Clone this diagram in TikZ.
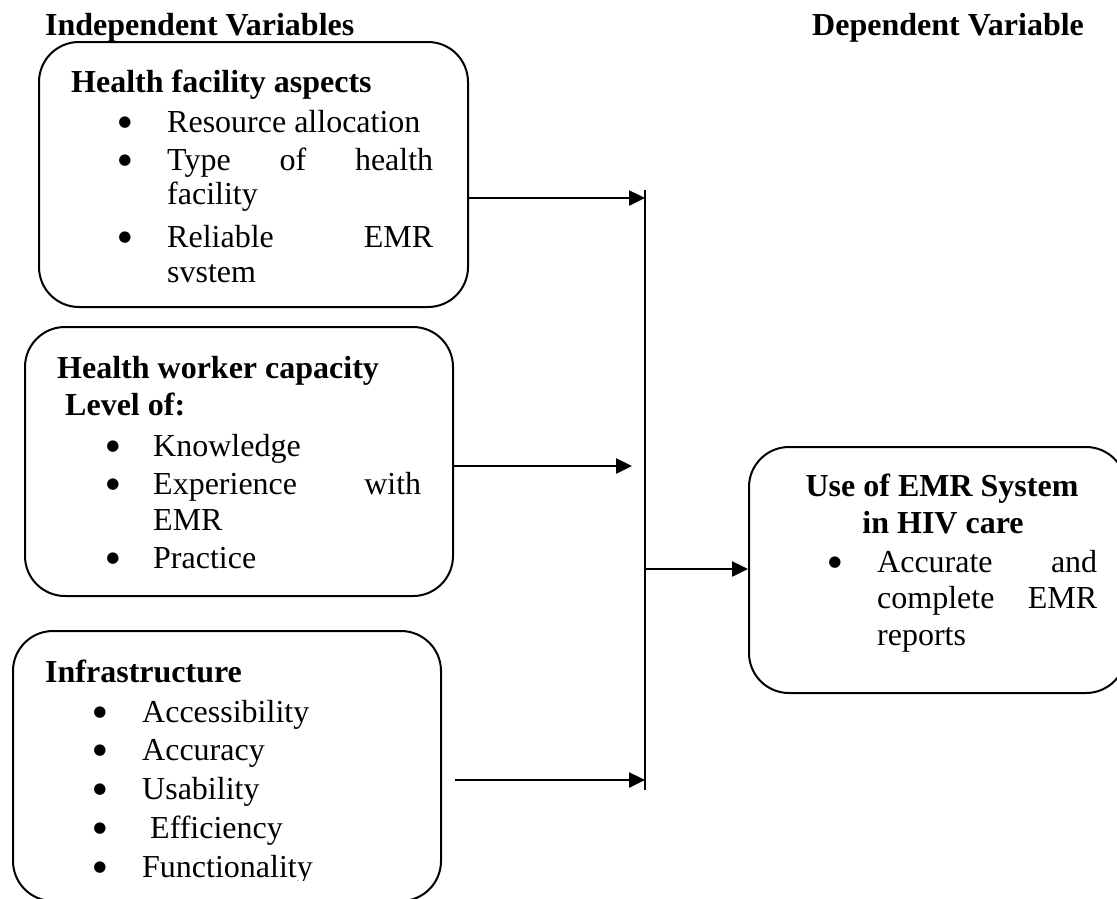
\documentclass[tikz,border=0pt]{standalone}
\usepackage{fontspec}
\setmainfont{Liberation Serif}
\newfontfamily\dvsans{DejaVu Sans}
\usetikzlibrary{arrows.meta}
\begin{document}
\begin{tikzpicture}[x=1pt,y=-1pt,
  boxsty/.style={draw, line width=2pt, rounded corners=40pt, anchor=north west, inner sep=0pt},
  txt/.style={inner sep=0pt, anchor=base west, font=\fontsize{32}{38}\selectfont},
  hd/.style={inner sep=0pt, anchor=base west, font=\fontsize{32}{38}\selectfont\bfseries},
  hdc/.style={inner sep=0pt, anchor=base, font=\fontsize{32}{38}\selectfont\bfseries},
  bul/.style={inner sep=0pt, anchor=center, yshift=9pt, font=\dvsans\fontsize{15}{18}\selectfont},
  conn/.style={line width=2.5pt, -{Triangle[length=16pt,width=15pt]}},
  vline/.style={line width=2pt}]
\clip (0,0) rectangle (1117,898);

% headers
\node[hd] (hind) at (45,35) {Independent Variables};
\node[hd] (hdep) at (812,35) {Dependent Variable};

% boxes
\node[boxsty, minimum width=429pt, minimum height=265pt] (b1) at (38,41) {};
\node[boxsty, minimum width=428pt, minimum height=269pt] (b2) at (24,326) {};
\node[boxsty, minimum width=428pt, minimum height=270pt] (b3) at (12,630) {};
\node[boxsty, minimum width=377pt, minimum height=246pt] (b4) at (748,446) {};

% box 1 text
\node[hd] (h1) at (71,92) {Health facility aspects};
\node[bul] (p11) at (125,132) {●};
\node[bul] (p12) at (125,170) {●};
\node[bul] (p13) at (125,247) {●};
\node[txt] (t11) at (167,132) {Resource allocation};
\node[txt] (t12) at (167,170) {\makebox[266pt][l]{Type\hfill of\hfill health}};
\node[txt] (t13) at (167,204) {facility};
\node[txt] (t14) at (167,247) {\makebox[266pt][l]{Reliable\hfill EMR}};
\node[txt] (t15) at (167,282) {svstem};

% box 2 text
\node[hd] (h2) at (57,378) {Health worker capacity};
\node[hd] (h2b) at (65,415) {Level of:};
\node[bul] (p21) at (113,456) {●};
\node[bul] (p22) at (113,494) {●};
\node[bul] (p23) at (113,568) {●};
\node[txt] (t21) at (153,456) {Knowledge};
\node[txt] (t22) at (153,494) {\makebox[268pt][l]{Experience\hfill with}};
\node[txt] (t23) at (153,530) {EMR};
\node[txt] (t24) at (153,568) {Practice};

% box 3 text
\node[hd] (h3) at (45,682) {Infrastructure};
\node[bul] (p31) at (100,722) {●};
\node[bul] (p32) at (100,760) {●};
\node[bul] (p33) at (100,799) {●};
\node[bul] (p34) at (100,838) {●};
\node[bul] (p35) at (100,877) {●};
\node[txt] (t31) at (142,722) {Accessibility};
\node[txt] (t32) at (142,760) {Accuracy};
\node[txt] (t33) at (142,799) {Usability};
\node[txt] (t34) at (150,838) {Efficiency};
\begin{scope}
\clip (0,0) rectangle (1117,880);
\node[txt] (t35) at (142,877) {Functionality};
\end{scope}

% box 4 text
\node[hdc] (h4) at (942,496) {Use of EMR System};
\node[hdc] (h4b) at (943,533) {in HIV care};
\node[bul] (p41) at (835,572) {●};
\node[txt] (t41) at (877,572) {\makebox[220pt][l]{Accurate\hfill and}};
\node[txt] (t42) at (877,608) {\makebox[220pt][l]{complete\hfill EMR}};
\node[txt] (t43) at (877,645) {reports};

% connectors
\coordinate (vtop) at (645,190);
\coordinate (vbot) at (645,790);
\draw[vline] (vtop) -- (vbot);
\coordinate (a1) at (645,198);
\draw[conn] (b1.east |- a1) -- (a1);
\coordinate (a2) at (632,466);
\draw[conn] (b2.east |- a2) -- (a2);
\coordinate (a3s) at (455,780);
\coordinate (a3) at (645,780);
\draw[conn] (a3s) -- (a3);
\coordinate (a4s) at (645,569);
\draw[conn] (a4s) -- (b4.west |- a4s);
\end{tikzpicture}
\end{document}
